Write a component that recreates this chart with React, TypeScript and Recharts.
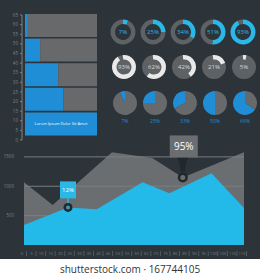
import React from "react";
import {
    BarChart,
    Bar,
    XAxis,
    YAxis,
    LineChart,
    Line,
    PieChart,
    Pie,
    Cell,
    LabelList,
    ComposedChart,
    Area,
    CartesianGrid,
    ReferenceDot,
} from "recharts";

const BG = "#2c343a";
const GRAY = "#68696b";
const BAR_BLUE = "#1f8ed6";
const RING_BLUE = "#29b8e8";
const AREA_BLUE = "#23b9e8";
const AXIS = "#8a9095";

// horizontal bars
const barRows = ["a", "b", "c", "d", "e"];
const barBlue = [4, 21, 46, 53, 100];
const barRest = [96, 79, 54, 47, 0];
const barLabels = ["", "", "", "", "Lorem Ipsum Dolor Sit Amet"];
const barTicks = [0, 5, 10, 15, 20, 25, 30, 35, 40, 45, 50, 55, 60, 65];

// rings and pies
const blueRing = [7, 25, 34, 51, 93];
const whiteRing = [93, 62, 42, 21, 5];
const pieShares = [7, 25, 33, 50, 66];

// area chart
const blueX = [0, 23, 38, 62, 76, 98, 115];
const blueY = [340, 640, 610, 1070, 880, 1220, 630];
const grayX = [0, 15, 46, 67, 83, 115];
const grayY = [1070, 680, 1580, 1480, 1150, 1580];
const areaYTicks = [500, 1000, 1500];
const areaXTicks = [0, 5, 10, 15, 20, 25, 30, 35, 40, 45, 50, 55, 60, 65, 70, 75, 80, 85, 90, 95, 100, 105, 110, 115];
const markerX = [23, 83];
const markerY = [640, 1150];
const markerLabels = ["12%", "95%"];

const barData = barRows.map((name, i) => ({
    name,
    blue: barBlue[i],
    rest: barRest[i],
    label: barLabels[i],
}));

const tickData = barTicks.map((v, i) => ({ i, v }));

const xs = Array.from(new Set([...blueX, ...grayX])).sort((a, b) => a - b);
const areaData = xs.map((x) => {
    const bi = blueX.indexOf(x);
    const gi = grayX.indexOf(x);
    return {
        x,
        blue: bi >= 0 ? blueY[bi] : null,
        gray: gi >= 0 ? grayY[gi] : null,
    };
});

function SmallPin(props: any) {
    const { cx, cy } = props;
    return (
        <g>
            <line x1={cx} x2={cx} y1={cy - 9} y2={cy - 4} stroke="#2ab9e6" strokeWidth={1.5} />
            <rect x={cx - 8} y={cy - 26} width={16} height={17} fill="#2ab9e6" />
            <text x={cx} y={cy - 15.5} textAnchor="middle" fontSize={6} fill="#ffffff">
                {markerLabels[0]}
            </text>
            <circle cx={cx} cy={cy} r={4.5} fill="#1d2a31" />
            <circle cx={cx} cy={cy} r={2} fill="#4b93aa" />
        </g>
    );
}

function BigPin(props: any) {
    const { cx, cy } = props;
    return (
        <g>
            <path
                d={`M${cx - 6},${cy - 20} L${cx + 6},${cy - 20} Q${cx + 2},${cy - 14} ${cx + 2.5},${cy - 6} L${cx - 2.5},${cy - 6} Q${cx - 2},${cy - 14} ${cx - 6},${cy - 20} Z`}
                fill="#20282d"
            />
            <rect x={cx - 13} y={cy - 42} width={28} height={22} fill="#6b6e71" />
            <text x={cx + 1} y={cy - 27.5} textAnchor="middle" fontSize={10} fill="#ffffff">
                {markerLabels[1]}
            </text>
            <circle cx={cx} cy={cy} r={5} fill="#20282d" />
            <circle cx={cx} cy={cy} r={2.5} fill="#6b6e71" />
        </g>
    );
}

function XTick(props: any) {
    const { x, y, payload } = props;
    return (
        <g>
            <text x={x - 2} y={y + 4} textAnchor="middle" fontSize={4} fill="#7a8085">
                {payload.value}
            </text>
            <line x1={x + 2.5} x2={x + 2.5} y1={y} y2={y + 5} stroke="#6d7378" strokeWidth={0.6} />
        </g>
    );
}

// label drawn once per pie, at its centre or below it
const centerLabel = (text: string, color: string) => (props: any) =>
    props.index === 0 ? (
        <text x={props.cx} y={props.cy + 2} textAnchor="middle" fontSize={6} fill={color}>
            {text}
        </text>
    ) : (
        <g />
    );

const belowLabel = (text: string) => (props: any) =>
    props.index === 0 ? (
        <text x={props.cx} y={props.cy + props.outerRadius + 8} textAnchor="middle" fontSize={5} fill={BAR_BLUE}>
            {text}
        </text>
    ) : (
        <g />
    );

function BarText(props: any) {
    const { x, y, width, height, value } = props;
    if (!value) return null;
    return (
        <text x={x + width / 2} y={y + height / 2 + 1.5} textAnchor="middle" fontSize={4} fill="#ffffff">
            {value}
        </text>
    );
}

export default function App() {
    return (
        <div
            style={{
                position: "absolute",
                left: 0,
                top: 0,
                width: 260,
                height: 280,
                background: BG,
                fontFamily: "'Open Sans', sans-serif",
                overflow: "hidden",
            }}
        >
            {/* bar tick axis */}
            <div style={{ position: "absolute", left: 0, top: 10 }}>
                <LineChart width={24} height={135} data={tickData} margin={{ top: 5, right: 0, bottom: 5, left: 0 }}>
                    <XAxis dataKey="i" hide />
                    <YAxis
                        type="number"
                        domain={[0, 65]}
                        ticks={barTicks}
                        width={22}
                        interval={0}
                        stroke="#7a8085"
                        tickSize={2}
                        tickMargin={2}
                        tick={{ fontSize: 4.5, fill: "#7a8085" }}
                    />
                    <Line dataKey="v" stroke="none" dot={false} isAnimationActive={false} />
                </LineChart>
            </div>

            {/* horizontal bars */}
            <div style={{ position: "absolute", left: 25, top: 13 }}>
                <BarChart
                    width={72}
                    height={123}
                    data={barData}
                    layout="vertical"
                    barCategoryGap={1}
                    margin={{ top: 0, right: 0, bottom: 0, left: 0 }}
                >
                    <XAxis type="number" domain={[0, 100]} hide />
                    <YAxis type="category" dataKey="name" hide />
                    <Bar dataKey="blue" stackId="s" fill={BAR_BLUE} isAnimationActive={false}>
                        <LabelList dataKey="label" content={<BarText />} />
                    </Bar>
                    <Bar dataKey="rest" stackId="s" fill={GRAY} isAnimationActive={false} />
                </BarChart>
            </div>

            {/* rings and pies */}
            <div style={{ position: "absolute", left: 95, top: 0 }}>
                <PieChart width={165} height={125}>
                    {blueRing.map((p, i) => (
                        <Pie
                            key={"r" + i}
                            data={[{ v: p }, { v: 100 - p }]}
                            dataKey="v"
                            cx={23 + i * 30}
                            cy={27}
                            innerRadius={8}
                            outerRadius={12.5}
                            startAngle={90}
                            endAngle={-270}
                            stroke="none"
                            label={centerLabel(p + "%", RING_BLUE)}
                            labelLine={false}
                            isAnimationActive={false}
                        >
                            <Cell fill={RING_BLUE} />
                            <Cell fill="#5f6265" />
                        </Pie>
                    ))}
                    {whiteRing.map((p, i) => (
                        <Pie
                            key={"wb" + i}
                            data={[{ v: 1 }]}
                            dataKey="v"
                            cx={24 + i * 30}
                            cy={62}
                            innerRadius={0}
                            outerRadius={12}
                            stroke="none"
                            fill="#5f6265"
                            isAnimationActive={false}
                        />
                    ))}
                    {whiteRing.map((p, i) => (
                        <Pie
                            key={"w" + i}
                            data={[{ v: p }, { v: 100 - p }]}
                            dataKey="v"
                            cx={24 + i * 30}
                            cy={62}
                            innerRadius={7.5}
                            outerRadius={12}
                            startAngle={96}
                            endAngle={-264}
                            stroke="none"
                            label={centerLabel(p + "%", "#d8d8d8")}
                            labelLine={false}
                            isAnimationActive={false}
                        >
                            <Cell fill="#e9e9e9" />
                            <Cell fill="transparent" />
                        </Pie>
                    ))}
                    {pieShares.map((p, i) => (
                        <Pie
                            key={"p" + i}
                            data={[{ v: p }, { v: 100 - p }]}
                            dataKey="v"
                            cx={25 + i * 30}
                            cy={98}
                            innerRadius={0}
                            outerRadius={12}
                            startAngle={90}
                            endAngle={450}
                            stroke="none"
                            label={belowLabel(p + "%")}
                            labelLine={false}
                            isAnimationActive={false}
                        >
                            <Cell fill={BAR_BLUE} />
                            <Cell fill={GRAY} />
                        </Pie>
                    ))}
                </PieChart>
            </div>

            {/* area chart */}
            <div style={{ position: "absolute", left: 0, top: 128 }}>
                <ComposedChart
                    width={260}
                    height={132}
                    data={areaData}
                    margin={{ top: 23, right: 16, bottom: 0, left: 0 }}
                >
                    <CartesianGrid
                        vertical={false}
                        horizontalValues={areaYTicks}
                        stroke={AXIS}
                        strokeWidth={0.8}
                    />
                    <XAxis
                        type="number"
                        dataKey="x"
                        domain={[0, 115]}
                        ticks={areaXTicks}
                        interval={0}
                        height={15}
                        axisLine={false}
                        tickLine={false}
                        tickMargin={0}
                        tick={<XTick />}
                    />
                    <YAxis
                        type="number"
                        domain={[0, 1600]}
                        ticks={areaYTicks}
                        width={24}
                        axisLine={false}
                        tickLine={false}
                        tickMargin={4}
                        tick={{ fontSize: 4.5, fill: "#7a8085" }}
                    />
                    <Area
                        type="linear"
                        dataKey="gray"
                        connectNulls
                        stroke="none"
                        fill="#7a7d80"
                        fillOpacity={0.8}
                        isAnimationActive={false}
                    />
                    <Area
                        type="linear"
                        dataKey="blue"
                        connectNulls
                        stroke="none"
                        fill={AREA_BLUE}
                        fillOpacity={1}
                        isAnimationActive={false}
                    />
                    <ReferenceDot x={markerX[0]} y={markerY[0]} r={4} shape={(p: any) => <SmallPin {...p} />} />
                    <ReferenceDot x={markerX[1]} y={markerY[1]} r={5} shape={(p: any) => <BigPin {...p} />} />
                </ComposedChart>
            </div>

            {/* footer strip */}
            <div
                style={{
                    position: "absolute",
                    left: 0,
                    top: 259,
                    width: 260,
                    height: 21,
                    background: "#ffffff",
                    color: "#333333",
                    fontSize: 10,
                    lineHeight: "21px",
                    textAlign: "center",
                }}
            >
                shutterstock.com · 167744105
            </div>
        </div>
    );
}
